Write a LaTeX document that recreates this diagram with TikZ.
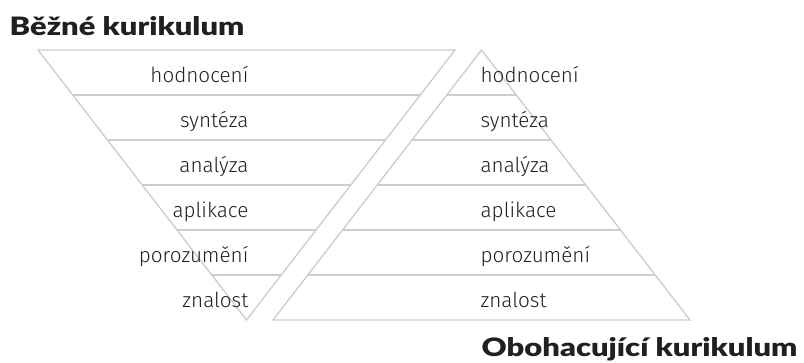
\documentclass[tikz,border=0pt]{standalone}
\usepackage{fontspec}
\setmainfont{Fira Sans Light}
\newfontfamily\headfont{Lato Black}[FakeStretch=1.22]
\usetikzlibrary{calc}
\definecolor{edgegray}{RGB}{205,205,205}
\definecolor{textgray}{RGB}{35,31,32}

\begin{document}
\begin{tikzpicture}[x=0.75pt, y=-0.75pt, line width=1pt, edgegray,
	level/.style={text=textgray, font=\fontsize{15.5}{18}\selectfont, inner sep=0pt},
	heading/.style={text=textgray, font=\headfont\fontsize{19}{23}\selectfont, inner sep=0pt}]
	\useasboundingbox (0,0) rectangle (804,362);
	% corners of both triangles
	\coordinate (lt1) at (38,50);
	\coordinate (lt2) at (455,50);
	\coordinate (lbot) at (246.5,320);
	\coordinate (rtop) at (481.5,50);
	\coordinate (rb1) at (273,320);
	\coordinate (rb2) at (690,320);
	% outlines
	\draw (lt1) -- (lt2) -- (lbot) -- cycle;
	\draw (rtop) -- (rb1) -- (rb2) -- cycle;
	% band separators
	\foreach \k in {1,...,5} {
		\draw ($(lt1)!\k/6!(lbot)$) -- ($(lt2)!\k/6!(lbot)$);
		\draw ($(rtop)!\k/6!(rb1)$) -- ($(rtop)!\k/6!(rb2)$);
	}
	% level names, one per band
	\foreach \name [count=\i] in {hodnocení, syntéza, analýza, aplikace, porozumění, znalost} {
		\node[level, anchor=base east] (l\i) at (249, 37.5+45*\i) {\name};
		\node[level, anchor=base west] (r\i) at (480, 37.5+45*\i) {\name};
	}
	\node[heading, anchor=base west] (lhead) at (9,35) {Běžné kurikulum};
	\node[heading, anchor=base east] (rhead) at (798,356) {Obohacující kurikulum};
\end{tikzpicture}
\end{document}
